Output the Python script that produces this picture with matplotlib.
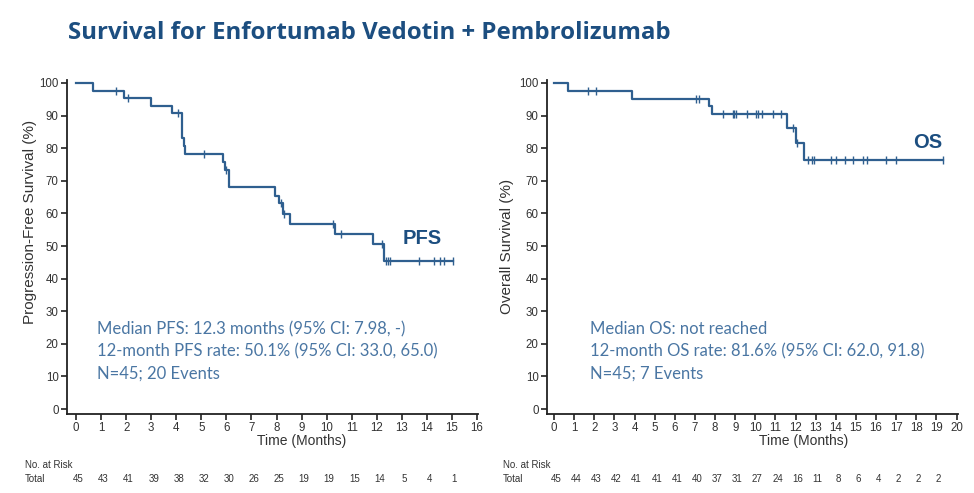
import numpy as np
import matplotlib
matplotlib.use("Agg")
import matplotlib.pyplot as plt
from matplotlib.transforms import blended_transform_factory

# ---------------- data ----------------
pfs_times = [0, 0.67, 1.92, 2.99, 3.82, 4.24, 4.29, 4.33, 5.88, 5.95, 6.12, 7.95, 8.10, 8.27, 8.54, 10.33, 11.86, 12.30]
pfs_surv = [100, 97.6, 95.3, 93.0, 90.7, 83.0, 80.7, 78.2, 75.9, 73.3, 68.0, 65.4, 63.1, 59.8, 56.7, 53.7, 50.5, 45.5]
pfs_censor = [1.60, 2.09, 4.08, 5.12, 5.98, 8.18, 8.30, 10.24, 10.57, 12.20, 12.36, 12.46, 12.53, 13.70, 14.29, 14.53, 14.69, 15.03]
pfs_end = 15.03
pfs_risk_months = list(range(0, 16))
pfs_risk = [45, 43, 41, 39, 38, 32, 30, 26, 25, 19, 19, 15, 14, 5, 4, 1]

os_times = [0, 0.71, 3.89, 7.72, 7.83, 11.59, 12.01, 12.42]
os_surv = [100, 97.6, 95.2, 92.9, 90.5, 86.1, 81.6, 76.4]
os_censor = [1.70, 2.09, 7.05, 7.22, 8.38, 8.88, 8.96, 9.04, 9.60, 10.03, 10.12, 10.32, 10.89,
             11.26, 11.86, 12.08, 12.63, 12.80, 12.92, 13.76, 14.01, 14.46, 14.87, 15.36, 15.56,
             16.48, 17.00, 19.34]
os_end = 19.34
os_risk_months = list(range(0, 20))
os_risk = [45, 44, 43, 42, 41, 41, 41, 40, 37, 31, 27, 24, 16, 11, 8, 6, 4, 2, 2, 2]

title = "Survival for Enfortumab Vedotin + Pembrolizumab"
pfs_notes = ["Median PFS: 12.3 months (95% CI: 7.98, -)",
             "12-month PFS rate: 50.1% (95% CI: 33.0, 65.0)",
             "N=45; 20 Events"]
os_notes = ["Median OS: not reached",
            "12-month OS rate: 81.6% (95% CI: 62.0, 91.8)",
            "N=45; 7 Events"]

# ---------------- style ----------------
TITLE_C = "#1C4E80"
CURVE_C = "#2F5F8F"
NOTE_C = "#4A76A3"
LABEL_C = "#1C4E80"
SANS = ["Liberation Sans", "DejaVu Sans"]
NOTE_FONT = ["Lato", "DejaVu Sans"]

W, H = 974, 493
fig = plt.figure(figsize=(W / 100, H / 100), dpi=100)
fig.patch.set_facecolor("white")


def fx(px):
    return px / W


def fy(py):
    return 1 - py / H


def km_panel(rect, times, surv, censor, end, xlim, xmax_tick, ylabel, ylab_pos,
             tlabel_x, tag, tag_pos, notes, note_x, risk_months, risk, risk_x):
    ax = fig.add_axes(rect)
    t = list(times) + [end]
    s = list(surv) + [surv[-1]]
    ax.step(t, s, where="post", color=CURVE_C, lw=1.6, zorder=3)
    idx = np.searchsorted(np.array(times), np.array(censor), side="right") - 1
    cy = np.array(surv)[idx]
    ax.plot(censor, cy, ls="none", marker="|", ms=6, mew=1.0, color=CURVE_C, zorder=4)

    ax.set_xlim(*xlim)
    ax.set_ylim(-1.5, 101)
    ax.set_xticks(range(0, xmax_tick + 1))
    ax.set_yticks(range(0, 101, 10))
    for sp in ("top", "right"):
        ax.spines[sp].set_visible(False)
    for sp in ("left", "bottom"):
        ax.spines[sp].set_linewidth(1.3)
        ax.spines[sp].set_color("#222222")
    ax.tick_params(axis="both", direction="out", length=4, width=1.2, color="#222222",
                   labelsize=8.3, labelcolor="#333333", pad=2)
    for lab in ax.get_xticklabels() + ax.get_yticklabels():
        lab.set_family(SANS)

    fig.text(fx(ylab_pos[0]), fy(ylab_pos[1]), ylabel, rotation=90, ha="center", va="center",
             fontsize=11, color="#333333", family=SANS)
    tr = blended_transform_factory(ax.transData, fig.transFigure)
    ax.text(tlabel_x, fy(441), "Time (Months)", transform=tr, ha="center", va="center",
            fontsize=10, color="#333333", family=SANS)

    ax.text(tag_pos[0], tag_pos[1], tag, transform=fig.transFigure, ha="left", va="center",
            fontsize=14.5, fontweight="bold", color=LABEL_C, family=SANS)

    for i, line in enumerate(notes):
        fig.text(fx(note_x), fy(329 + 22.5 * i), line, ha="left", va="center",
                 fontsize=12, color=NOTE_C, family=NOTE_FONT)

    fig.text(fx(risk_x), fy(465), "No. at Risk", ha="left", va="center",
             fontsize=7, color="#333333", family=SANS)
    fig.text(fx(risk_x), fy(479), "Total", ha="left", va="center",
             fontsize=7, color="#333333", family=SANS)
    for m, n in zip(risk_months, risk):
        ax.text(m + 0.1, fy(479), str(n), transform=tr, ha="center", va="center",
                fontsize=7, color="#333333", family=SANS, clip_on=False)
    return ax


# left panel: x 67..478 px, y 80..414 px
km_panel([fx(67), fy(414), fx(478) - fx(67), fy(79.7) - fy(414)],
         pfs_times, pfs_surv, pfs_censor, pfs_end, (-0.36, 16.04), 16,
         "Progression-Free Survival (%)", (30, 222), 9.0,
         "PFS", (fx(403), fy(238)), pfs_notes, 97,
         pfs_risk_months, pfs_risk, 25)

# right panel: x 547..958 px
km_panel([fx(547), fy(414), fx(958) - fx(547), fy(79.7) - fy(414)],
         os_times, os_surv, os_censor, os_end, (-0.35, 20.07), 20,
         "Overall Survival (%)", (507, 246), 12.4,
         "OS", (fx(913), fy(142)), os_notes, 590,
         os_risk_months, os_risk, 503)

fig.text(fx(68), fy(33), title, ha="left", va="center", fontsize=17.3, fontweight="bold",
         color=TITLE_C, family=["Open Sans", "DejaVu Sans"])

fig.savefig("out.png", dpi=100, facecolor="white")
